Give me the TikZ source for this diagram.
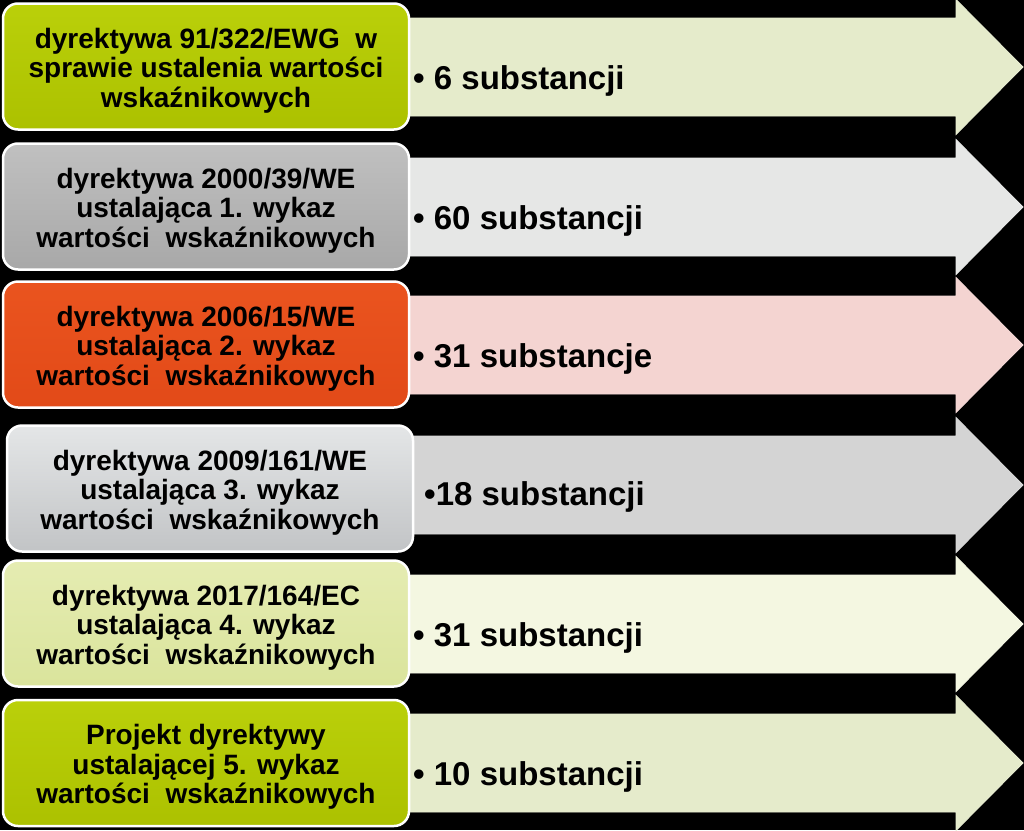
\documentclass[tikz,border=0pt]{standalone}
\usepackage{fontspec}
\setmainfont{Liberation Sans}
\begin{document}
\begin{tikzpicture}[x=1pt,y=-1pt,
  boxst/.style={draw=white, line width=2.5pt, rounded corners=15pt,
    minimum width=406pt, minimum height=126pt},
  boxtext/.style={align=center, inner sep=0pt, yshift=-4pt,
    font=\fontsize{28}{29.5}\selectfont\bfseries, text=black},
  arrtext/.style={anchor=base west, inner sep=0pt,
    font=\fontsize{33}{36}\selectfont\bfseries, text=black},
  arrline/.style={line width=0.8pt}]
\definecolor{gA}{HTML}{E5EBCB}
\definecolor{gB}{HTML}{E6E7E6}
\definecolor{gC}{HTML}{F4D4D1}
\definecolor{gD}{HTML}{D4D4D4}
\definecolor{gE}{HTML}{F4F7E1}
\fill[black] (0,0) rectangle (1024,830);
\useasboundingbox (0,0) rectangle (1024,830);
% arrows
\foreach \c/\col in {67/gA,207/gB,345/gC,485/gD,624/gE,763/gA}{
  \filldraw[fill=\col, draw=\col!85!white, arrline]
    (400,\c-49) -- (956,\c-49) -- (956,\c-67.5) -- (1023,\c)
    -- (956,\c+67.5) -- (956,\c+49) -- (400,\c+49) -- cycle;
}
% boxes
\node[boxst, top color={rgb,255:red,186;green,208;blue,10}, bottom color={rgb,255:red,172;green,193;blue,0}]
  (b1) at (206,66.5) {};
\node[boxst, top color={rgb,255:red,192;green,192;blue,192}, bottom color={rgb,255:red,168;green,168;blue,168}]
  (b2) at (206,206.5) {};
\node[boxst, top color={rgb,255:red,234;green,84;blue,31}, bottom color={rgb,255:red,226;green,74;blue,24}]
  (b3) at (206,344.5) {};
\node[boxst, top color={rgb,255:red,228;green,230;blue,231}, bottom color={rgb,255:red,194;green,196;blue,198}]
  (b4) at (210,488.5) {};
\node[boxst, top color={rgb,255:red,229;green,236;blue,178}, bottom color={rgb,255:red,218;green,228;blue,156}]
  (b5) at (206,623.5) {};
\node[boxst, top color={rgb,255:red,186;green,208;blue,10}, bottom color={rgb,255:red,172;green,193;blue,0}]
  (b6) at (206,763) {};
\node[boxtext] (l1) at (b1.center) {dyrektywa 91/322/EWG\ \ w\\sprawie ustalenia wartości\\wskaźnikowych};
\node[boxtext] (l2) at (b2.center) {dyrektywa 2000/39/WE\\ustalająca 1. wykaz\\wartości\ \ wskaźnikowych};
\node[boxtext] (l3) at (b3.center) {dyrektywa 2006/15/WE\\ustalająca 2. wykaz\\wartości\ \ wskaźnikowych};
\node[boxtext] (l4) at (b4.center) {dyrektywa 2009/161/WE\\ustalająca 3. wykaz\\wartości\ \ wskaźnikowych};
\node[boxtext] (l5) at (b5.center) {dyrektywa 2017/164/EC\\ustalająca 4. wykaz\\wartości\ \ wskaźnikowych};
\node[boxtext] (l6) at (b6.center) {Projekt dyrektywy\\ustalającej 5. wykaz\\wartości\ \ wskaźnikowych};
% arrow texts
\node[arrtext] (t1) at (413,89) {•\ 6 substancji};
\node[arrtext] (t2) at (413,229) {•\ 60 substancji};
\node[arrtext] (t3) at (413,367) {•\ 31 substancje};
\node[arrtext] (t4) at (424,505) {•18 substancji};
\node[arrtext] (t5) at (413,646) {•\ 31 substancji};
\node[arrtext] (t6) at (413,785) {•\ 10 substancji};
\end{tikzpicture}
\end{document}
